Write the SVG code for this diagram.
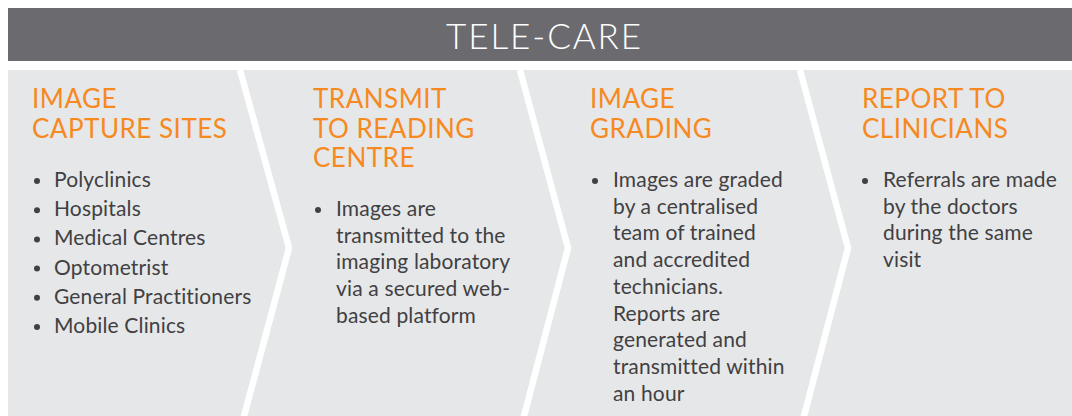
<svg xmlns="http://www.w3.org/2000/svg" width="1072" height="416" viewBox="0 0 1072 416">
<style>
.title{font-family:Lato,"Open Sans",sans-serif;font-size:35px;fill:#ffffff;font-weight:300;letter-spacing:1.9px}
.head{font-family:Lato,"Open Sans",sans-serif;font-size:26px;fill:#f6891f;letter-spacing:0.5px}
.body{font-family:Lato,"Open Sans",sans-serif;font-size:21px;fill:#414042;letter-spacing:0.15px}
.dot{fill:#414042}
.sep{fill:none;stroke:#ffffff;stroke-width:6.5}
</style>
<rect x="0" y="0" width="1072" height="416" fill="#ffffff"/>
<g id="header">
<rect x="8" y="8" width="1064" height="53" fill="#6b6b6f"/>
<text class="title" x="544.5" y="48.5" text-anchor="middle">TELE-CARE</text>
</g>
<rect x="8" y="70" width="1064" height="346" fill="#e6e7e8"/>
<g id="connectors">
<polyline class="sep" points="240,70 289,248 243,420"/>
<polyline class="sep" points="520,70 568,248 523,420"/>
<polyline class="sep" points="800,70 848,248 803,420"/>
</g>
<g id="step1">
<text class="head" x="32" y="108">IMAGE</text>
<text class="head" x="32" y="138">CAPTURE SITES</text>
<circle class="dot" cx="37" cy="181" r="3"/><text class="body" x="54" y="187">Polyclinics</text>
<circle class="dot" cx="37" cy="210.2" r="3"/><text class="body" x="54" y="216.2">Hospitals</text>
<circle class="dot" cx="37" cy="239.4" r="3"/><text class="body" x="54" y="245.4">Medical Centres</text>
<circle class="dot" cx="37" cy="268.6" r="3"/><text class="body" x="54" y="274.6">Optometrist</text>
<circle class="dot" cx="37" cy="297.8" r="3"/><text class="body" x="54" y="303.8">General Practitioners</text>
<circle class="dot" cx="37" cy="327" r="3"/><text class="body" x="54" y="333">Mobile Clinics</text>
</g>
<g id="step2">
<text class="head" x="313" y="108">TRANSMIT</text>
<text class="head" x="313" y="138">TO READING</text>
<text class="head" x="313" y="167">CENTRE</text>
<circle class="dot" cx="318" cy="210" r="3"/>
<text class="body" x="336" y="216">Images are</text>
<text class="body" x="336" y="242.7">transmitted to the</text>
<text class="body" x="336" y="269.4">imaging laboratory</text>
<text class="body" x="336" y="296.1">via a secured web-</text>
<text class="body" x="336" y="322.8">based platform</text>
</g>
<g id="step3">
<text class="head" x="590" y="108">IMAGE</text>
<text class="head" x="590" y="138">GRADING</text>
<circle class="dot" cx="595" cy="181" r="3"/>
<text class="body" x="613" y="187">Images are graded</text>
<text class="body" x="613" y="213.7">by a centralised</text>
<text class="body" x="613" y="240.4">team of trained</text>
<text class="body" x="613" y="267.1">and accredited</text>
<text class="body" x="613" y="293.8">technicians.</text>
<text class="body" x="613" y="320.5">Reports are</text>
<text class="body" x="613" y="347.2">generated and</text>
<text class="body" x="613" y="373.9">transmitted within</text>
<text class="body" x="613" y="400.6">an hour</text>
</g>
<g id="step4">
<text class="head" x="862" y="108">REPORT TO</text>
<text class="head" x="862" y="138">CLINICIANS</text>
<circle class="dot" cx="865" cy="181" r="3"/>
<text class="body" x="883" y="187">Referrals are made</text>
<text class="body" x="883" y="213.7">by the doctors</text>
<text class="body" x="883" y="240.4">during the same</text>
<text class="body" x="883" y="267.1">visit</text>
</g>
</svg>
